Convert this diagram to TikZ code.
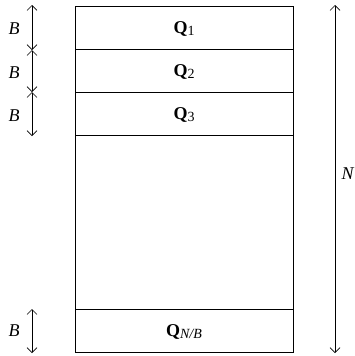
\documentclass[tikz,border=0pt]{standalone}
\usepackage{fontspec}
\setmainfont{Liberation Serif}
\usetikzlibrary{arrows.meta}
\newcommand{\qsub}[1]{\raisebox{-0.3ex}{\fontsize{14}{15}\selectfont #1}}
\begin{document}
\begin{tikzpicture}[x=1pt,y=-1pt,
  band/.style={draw, line width=0.8pt, minimum width=218pt, inner sep=0pt, outer sep=0pt, anchor=north west},
  qlabel/.style={font=\fontsize{18}{20}\selectfont},
  blabel/.style={font=\fontsize{18}{20}\selectfont\itshape, inner sep=0pt},
  dim/.style={line width=0.7pt, {Straight Barb[length=5pt,width=10pt]}-{Straight Barb[length=5pt,width=10pt]}}]
\useasboundingbox (0,0) rectangle (354,356);
% bands
\node[band, minimum height=43pt] (q1) at (75,6) {};
\node[band, minimum height=43pt] (q2) at (75,49) {};
\node[band, minimum height=43pt] (q3) at (75,92) {};
\node[band, minimum height=174pt] (mid) at (75,135) {};
\node[band, minimum height=43pt] (qn) at (75,309) {};
\node[qlabel] (l1) at ([yshift=-1pt]q1.center) {\textbf{Q}\qsub{1}};
\node[qlabel] (l2) at ([yshift=-1pt]q2.center) {\textbf{Q}\qsub{2}};
\node[qlabel] (l3) at ([yshift=-1pt]q3.center) {\textbf{Q}\qsub{3}};
\node[qlabel] (ln) at ([yshift=-1pt]qn.center) {\textbf{Q}\qsub{\textit{N/B}}};
% left dimension arrows
\coordinate (a0) at (32,5);
\coordinate (a1) at (32,50);
\coordinate (a2) at (32,92);
\coordinate (a3) at (32,136);
\coordinate (b0) at (32,309);
\coordinate (b1) at (32,353);
\draw[dim] (a0) -- (a1);
\draw[dim] (a1) -- (a2);
\draw[dim] (a2) -- (a3);
\draw[dim] (b0) -- (b1);
\node[blabel] (B1) at (14,29) {B};
\node[blabel] (B2) at (14,73) {B};
\node[blabel] (B3) at (14,116) {B};
\node[blabel] (B4) at (14,331) {B};
% right dimension arrow
\coordinate (r0) at (335,5);
\coordinate (r1) at (335,353);
\draw[dim] (r0) -- (r1);
\node[blabel, anchor=west] (N) at (341.5,174) {N};
\end{tikzpicture}
\end{document}
